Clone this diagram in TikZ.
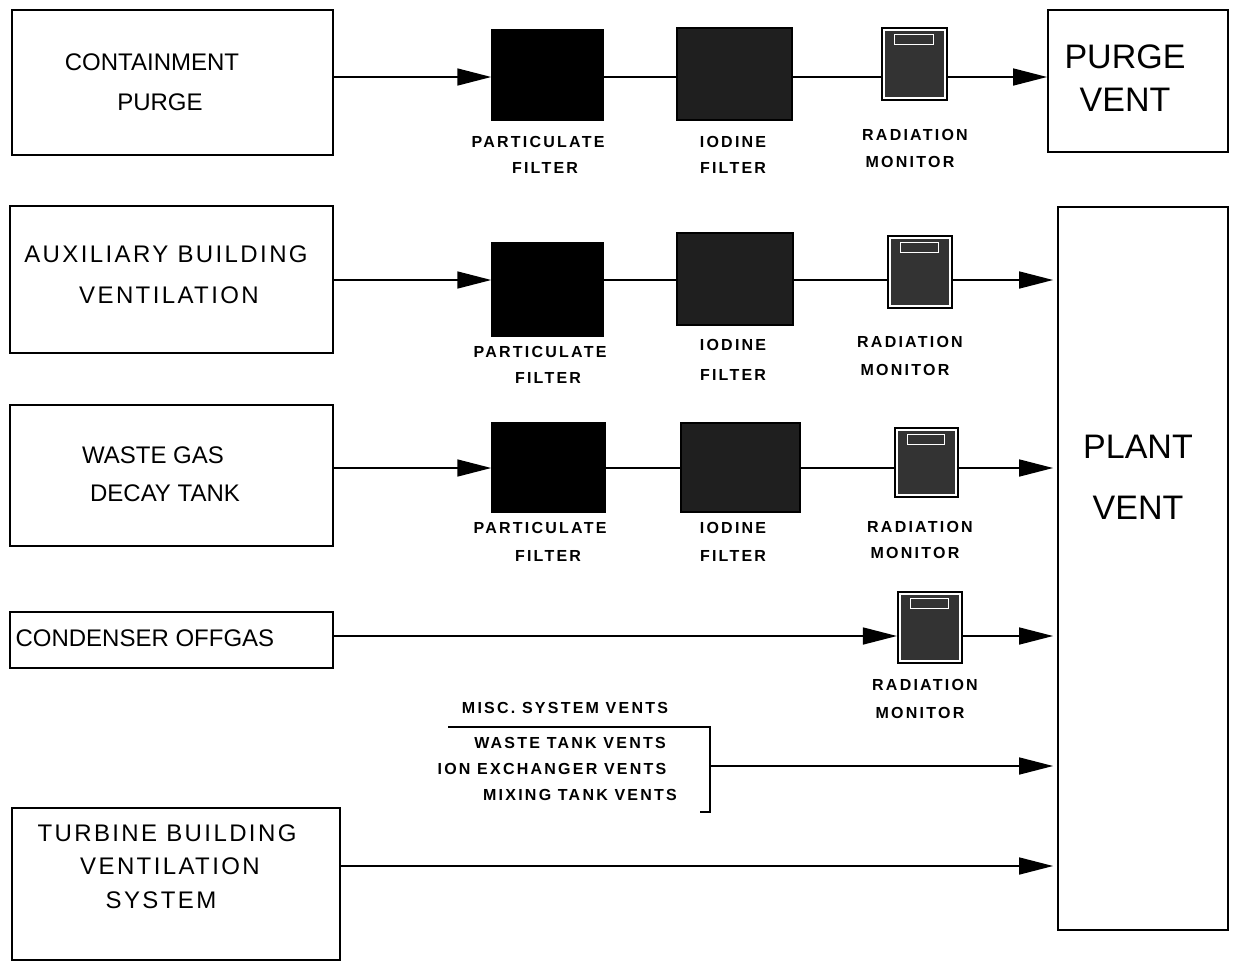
\documentclass[tikz,border=0pt]{standalone}
\usepackage{fontspec}
\setmainfont{Liberation Sans}
\newfontfamily\spacedbig{Liberation Sans}[LetterSpace=10]
\newfontfamily\spacedsmall{Liberation Sans}[LetterSpace=14,BoldFont={Liberation Sans Bold}]
\usetikzlibrary{arrows.meta}
\begin{document}
\begin{tikzpicture}[x=1pt,y=-1pt,
  box/.style={draw,line width=1.8pt,inner sep=0pt},
  big/.style={font=\fontsize{24}{24}\selectfont,align=center},
  bigsp/.style={font=\spacedbig\fontsize{24}{24}\selectfont,align=center},
  huge/.style={font=\fontsize{34}{34}\selectfont,align=center},
  lab/.style={font=\spacedsmall\bfseries\fontsize{16}{16}\selectfont,align=center,inner sep=0pt},
  pfilt/.style={fill=black,draw,line width=1.5pt,inner sep=0pt},
  ifilt/.style={fill=black!88,draw,line width=1.5pt,inner sep=0pt},
  rmon/.style={draw,line width=2.2pt,fill=white,inner sep=0pt,
    path picture={\fill[black!80] ([shift={(3pt,-3pt)}]path picture bounding box.north west) rectangle ([shift={(-3pt,3pt)}]path picture bounding box.south east);
      \draw[white,line width=1pt] ([shift={(12pt,-6pt)}]path picture bounding box.north west) rectangle ([shift={(-14pt,-16pt)}]path picture bounding box.north east);}},
  line/.style={line width=1.6pt},
  arr/.style={line width=1.6pt,-{Triangle[length=34pt,width=17pt]}}]
\useasboundingbox (0,0) rectangle (1235,962);

% row coordinates
\coordinate (r1) at (0,77);
\coordinate (r2) at (0,280);
\coordinate (r3) at (0,468);
\coordinate (r4) at (0,636);
\coordinate (r5) at (0,766);
\coordinate (r6) at (0,866);

% source boxes
\node[box,minimum width=321pt,minimum height=145pt] (cp) at (172.5,82.5) {};
\node[big] at (152,62) {CONTAINMENT};
\node[big] at (160,102) {PURGE};

\node[box,minimum width=323pt,minimum height=147pt] (ab) at (171.5,279.5) {};
\node[bigsp] at (166,254) {AUXILIARY BUILDING};
\node[bigsp] at (169,295) {VENTILATION};

\node[box,minimum width=323pt,minimum height=141pt] (wg) at (171.5,475.5) {};
\node[big] at (153,455) {WASTE GAS};
\node[big] at (165,493) {DECAY TANK};

\node[box,minimum width=323pt,minimum height=56pt] (co) at (171.5,640) {};
\node[big,anchor=west] at (12,638) {CONDENSER OFFGAS};

\node[box,minimum width=328pt,minimum height=152pt] (tb) at (176,884) {};
\node[bigsp] at (167,833) {TURBINE BUILDING};
\node[bigsp] at (170,866) {VENTILATION};
\node[bigsp] at (161,900) {SYSTEM};

% vents
\node[box,minimum width=180pt,minimum height=142pt] (pv) at (1138,81) {};
\node[huge] at (1125,57) {PURGE};
\node[huge] at (1125,100) {VENT};

\node[box,minimum width=170pt,minimum height=723pt] (pl) at (1143,568.5) {};
\node[huge] at (1138,447) {PLANT};
\node[huge] at (1138,508) {VENT};

% row 1
\node[pfilt,minimum width=111pt,minimum height=90pt] (pf1) at (547.5,75) {};
\node[ifilt,minimum width=115pt,minimum height=92pt] (if1) at (734.5,74) {};
\node[rmon,minimum width=65pt,minimum height=72pt] (rm1) at (914.5,64) {};
\node[lab] at (538,142) {PARTICULATE};
\node[lab] at (545,168) {FILTER};
\node[lab] at (733,142) {IODINE};
\node[lab] at (733,168) {FILTER};
\node[lab] at (915,135) {RADIATION};
\node[lab] at (910,162) {MONITOR};
\draw[arr] (cp.east |- r1) -- (pf1.west |- r1);
\draw[line] (pf1.east |- r1) -- (if1.west |- r1);
\draw[line] (if1.east |- r1) -- (rm1.west |- r1);
\draw[arr] (rm1.east |- r1) -- (pv.west |- r1);

% row 2
\node[pfilt,minimum width=111pt,minimum height=93pt] (pf2) at (547.5,289.5) {};
\node[ifilt,minimum width=116pt,minimum height=92pt] (if2) at (735,279) {};
\node[rmon,minimum width=64pt,minimum height=72pt] (rm2) at (920,272) {};
\node[lab] at (540,352) {PARTICULATE};
\node[lab] at (548,378) {FILTER};
\node[lab] at (733,345) {IODINE};
\node[lab] at (733,375) {FILTER};
\node[lab] at (910,342) {RADIATION};
\node[lab] at (905,370) {MONITOR};
\draw[arr] (ab.east |- r2) -- (pf2.west |- r2);
\draw[line] (pf2.east |- r2) -- (if2.west |- r2);
\draw[line] (if2.east |- r2) -- (rm2.west |- r2);
\draw[arr,shorten >=4pt] (rm2.east |- r2) -- (pl.west |- r2);

% row 3
\node[pfilt,minimum width=113pt,minimum height=89pt] (pf3) at (548.5,467.5) {};
\node[ifilt,minimum width=119pt,minimum height=89pt] (if3) at (740.5,467.5) {};
\node[rmon,minimum width=63pt,minimum height=69pt] (rm3) at (926.5,462.5) {};
\node[lab] at (540,528) {PARTICULATE};
\node[lab] at (548,556) {FILTER};
\node[lab] at (733,528) {IODINE};
\node[lab] at (733,556) {FILTER};
\node[lab] at (920,527) {RADIATION};
\node[lab] at (915,553) {MONITOR};
\draw[arr] (wg.east |- r3) -- (pf3.west |- r3);
\draw[line] (pf3.east |- r3) -- (if3.west |- r3);
\draw[line] (if3.east |- r3) -- (rm3.west |- r3);
\draw[arr,shorten >=4pt] (rm3.east |- r3) -- (pl.west |- r3);

% row 4
\node[rmon,minimum width=64pt,minimum height=71pt] (rm4) at (930,627.5) {};
\node[lab] at (925,685) {RADIATION};
\node[lab] at (920,713) {MONITOR};
\draw[arr] (co.east |- r4) -- (rm4.west |- r4);
\draw[arr,shorten >=4pt] (rm4.east |- r4) -- (pl.west |- r4);

% misc vents
\node[lab] (misc) at (565,708) {MISC. SYSTEM VENTS};
\node[lab] (wt) at (570,743) {WASTE TANK VENTS};
\node[lab] (ie) at (552,769) {ION EXCHANGER VENTS};
\node[lab] (mt) at (580,795) {MIXING TANK VENTS};
\coordinate (bl) at (448,727);
\coordinate (bt) at (710,727);
\coordinate (bb) at (710,812);
\coordinate (bbl) at (700,812);
\draw[line] (bl) -- (bt) -- (bb) -- (bbl);
\draw[arr,shorten >=4pt] (bt |- r5) -- (pl.west |- r5);

% turbine
\draw[arr,shorten >=4pt] (tb.east |- r6) -- (pl.west |- r6);
\end{tikzpicture}
\end{document}
